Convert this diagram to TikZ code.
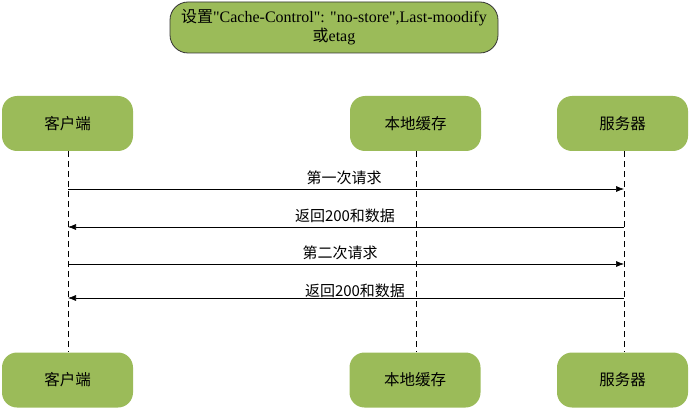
\documentclass[tikz,border=0pt]{standalone}
\usepackage{fontspec}
\setmainfont{Liberation Serif}[Ligatures=TeXOff]
\newfontfamily\cjk{Noto Sans CJK SC}
\usetikzlibrary{arrows.meta}
\definecolor{boxgreen}{HTML}{9BBB59}
\begin{document}
\begin{tikzpicture}[x=1pt,y=-1pt,
  actor/.style={fill=boxgreen,rounded corners=15pt,minimum width=131pt,minimum height=55pt,inner sep=0pt,font=\cjk\fontsize{15.5}{17}\selectfont},
  life/.style={dashed,dash pattern=on 6pt off 4pt,line width=0.6pt},
  msg/.style={line width=0.6pt,-{Latex[length=8pt,width=6pt]}},
  lbl/.style={font=\cjk\fontsize{15}{17}\selectfont,inner sep=0pt}]
\useasboundingbox (0,0) rectangle (691,409);
\node[draw=black!80,fill=boxgreen,rounded corners=18pt,minimum width=328pt,minimum height=51pt,line width=0.8pt,align=center,font=\fontsize{16}{19}\selectfont] (note) at (334,27.5) {{\cjk 设置}"Cache-Control": "no-store",Last-moodify\\{\cjk 或}etag};
\node[actor] (c1) at (67.5,123.5) {客户端};
\node[actor] (l1) at (415.5,123.5) {本地缓存};
\node[actor] (s1) at (622.5,123.5) {服务器};
\node[actor] (c2) at (67.5,380) {客户端};
\node[actor] (l2) at (415,380) {本地缓存};
\node[actor] (s2) at (622.5,380) {服务器};
\draw[life] (c1.south) ++(0.5,0) coordinate (ct) -- (c2.north -| ct);
\draw[life] (l1.south) ++(0.5,0) coordinate (lt) -- (l2.north -| lt);
\draw[life] (s1.south) ++(1.5,0) coordinate (st) -- (s2.north -| st);
\coordinate (a1) at (ct |- 0,189); \coordinate (b1) at (st |- 0,189);
\coordinate (a2) at (ct |- 0,227); \coordinate (b2) at (st |- 0,227);
\coordinate (a3) at (ct |- 0,264); \coordinate (b3) at (st |- 0,264);
\coordinate (a4) at (ct |- 0,298); \coordinate (b4) at (st |- 0,298);
\draw[msg] (a1) -- (b1);
\draw[msg] (b2) -- (a2);
\draw[msg] (a3) -- (b3);
\draw[msg] (b4) -- (a4);
\node[lbl] (t1) at (344,178) {第一次请求};
\node[lbl] (t2) at (345,216) {返回200和数据};
\node[lbl] (t3) at (340,253) {第二次请求};
\node[lbl] (t4) at (355,291) {返回200和数据};
\end{tikzpicture}
\end{document}
